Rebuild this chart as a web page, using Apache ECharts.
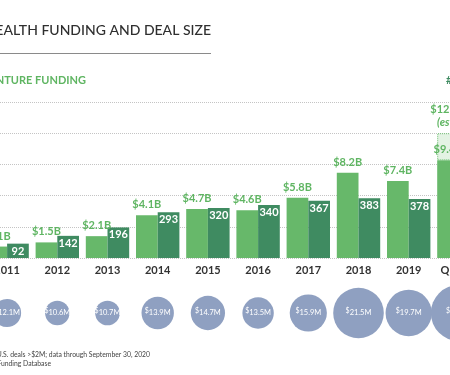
<!DOCTYPE html>
<html lang="en">
<head>
    <meta charset="UTF-8">
    <title>Digital health funding and deal size</title>
    <script src="https://cdn.jsdelivr.net/npm/echarts@6/dist/echarts.min.js"></script>
    <style>
        html, body { margin: 0; background: #fff; }
        #chart { width: 450px; height: 375px; }
    </style>
</head>
<body>
<div id="chart"></div>
<script>
    var years = ['2011', '2012', '2013', '2014', '2015', '2016', '2017', '2018', '2019', 'Q1–Q3'];
    // venture funding, $B
    var funding = [1.1, 1.5, 2.1, 4.1, 4.7, 4.6, 5.8, 8.2, 7.4, 9.4];
    // estimated full-year total, $B
    var estimate = [null, null, null, null, null, null, null, null, null, 12.0];
    // number of deals
    var deals = [92, 142, 196, 293, 320, 340, 367, 383, 378, null];
    // average deal size, $M
    var dealSize = [12.1, 10.6, 10.7, 13.9, 14.7, 13.5, 15.9, 21.5, 19.7, 23.8];

    var LIGHT = '#67b86a';
    var DARK = '#3f8b61';
    var FONT = 'Lato';

    var estExtra = estimate.map(function (e, i) {
        return e == null ? null : +(e - funding[i]).toFixed(1);
    });

    var chart = echarts.init(document.getElementById('chart'));

    var option = {
        animation: false,
        textStyle: { fontFamily: FONT },
        grid: [
            { left: -18, width: 502, top: 102, height: 156, outerBoundsMode: 'none' },
            { left: -18, width: 502, top: 290, height: 46, outerBoundsMode: 'none' }
        ],
        xAxis: [{
            type: 'category',
            gridIndex: 0,
            data: years,
            axisLine: { show: false },
            axisTick: { show: false },
            axisLabel: { color: '#333', fontSize: 11, fontWeight: 'bold', margin: 7, interval: 0 }
        }, {
            type: 'category',
            gridIndex: 1,
            data: years,
            show: false
        }],
        yAxis: [{
            type: 'value',
            gridIndex: 0,
            min: 0, max: 15, interval: 3,
            axisLabel: { show: false },
            axisLine: { show: false },
            axisTick: { show: false },
            splitLine: { lineStyle: { color: '#c4c4c4', type: 'dotted', width: 1 } }
        }, {
            type: 'value',
            gridIndex: 0,
            min: 0, max: 1000, interval: 200,
            show: false,
            splitLine: { show: false }
        }, {
            type: 'category',
            gridIndex: 1,
            data: ['avg'],
            show: false
        }],
        graphic: [{
            type: 'text',
            x: 211, y: 30,
            style: {
                text: 'DIGITAL HEALTH FUNDING AND DEAL SIZE',
                align: 'right', verticalAlign: 'middle',
                fill: '#2f2f2f', font: '500 14px ' + FONT
            }
        }, {
            type: 'line',
            shape: { x1: 0, y1: 53.5, x2: 211, y2: 53.5 },
            style: { stroke: '#8a8a8a', lineWidth: 1 }
        }, {
            type: 'text',
            x: 86, y: 80,
            style: {
                text: 'VENTURE FUNDING',
                align: 'right', verticalAlign: 'middle',
                fill: '#5fb562', font: 'bold 11px ' + FONT
            }
        }, {
            type: 'text',
            x: 446, y: 80,
            style: {
                text: '# OF DEALS',
                align: 'left', verticalAlign: 'middle',
                fill: DARK, font: 'bold 11px ' + FONT
            }
        }, {
            type: 'text',
            x: 150, y: 355,
            style: {
                text: 'Note: U.S. deals >$2M; data through September 30, 2020',
                align: 'right', verticalAlign: 'middle',
                fill: '#444', font: '6.8px ' + FONT
            }
        }, {
            type: 'text',
            x: 51, y: 364,
            style: {
                text: 'Source: Rock Health Digital Health Funding Database',
                align: 'right', verticalAlign: 'middle',
                fill: '#444', font: '6.8px ' + FONT
            }
        }],
        series: [{
            name: 'Funding',
            type: 'bar',
            xAxisIndex: 0, yAxisIndex: 0,
            stack: 'fund',
            barWidth: 21.7,
            barGap: '0%',
            data: funding,
            itemStyle: { color: LIGHT },
            label: {
                show: true,
                position: 'top',
                distance: 5,
                color: '#5fb562',
                fontSize: 11,
                fontWeight: 'bold',
                formatter: function (p) { return '$' + p.value.toFixed(1) + 'B'; }
            }
        }, {
            name: 'Estimate',
            type: 'bar',
            xAxisIndex: 0, yAxisIndex: 0,
            stack: 'fund',
            barWidth: 21.7,
            data: estExtra,
            itemStyle: { color: '#e4f3e4', borderColor: '#6cbd6f', borderWidth: 1, borderType: 'dotted' },
            label: {
                show: true,
                position: 'top',
                distance: 4,
                formatter: function (p) {
                    return '{v|$' + estimate[p.dataIndex].toFixed(1) + 'B}\n{e|(est.)}';
                },
                rich: {
                    v: { color: '#5fb562', fontSize: 11, fontWeight: 'bold', lineHeight: 13 },
                    e: { color: '#5fb562', fontSize: 11, fontWeight: 'bold', fontStyle: 'italic', lineHeight: 13 }
                }
            }
        }, {
            name: 'Deals',
            type: 'bar',
            xAxisIndex: 0, yAxisIndex: 1,
            barWidth: 21.7,
            barGap: '0%',
            data: deals,
            itemStyle: { color: DARK },
            label: {
                show: true,
                position: 'insideTop',
                distance: 2,
                color: '#fff',
                fontSize: 11,
                fontWeight: 'bold'
            }
        }, {
            name: 'Average deal size',
            type: 'scatter',
            xAxisIndex: 1, yAxisIndex: 2,
            data: dealSize.map(function (v, i) { return [years[i], 'avg', v]; }),
            symbolSize: function (d) { return 2.4 * d[2] - 1; },
            itemStyle: { color: '#8fa0c1', opacity: 1 },
            label: {
                show: true,
                position: 'inside',
                formatter: function (p) { return '{s|$}{v|' + p.value[2].toFixed(1) + 'M}'; },
                rich: {
                    s: { color: '#fff', fontSize: 7, padding: [0, 0, 4, 0] },
                    v: { color: '#fff', fontSize: 7.5 }
                }
            }
        }]
    };

    chart.setOption(option);
</script>
</body>
</html>
